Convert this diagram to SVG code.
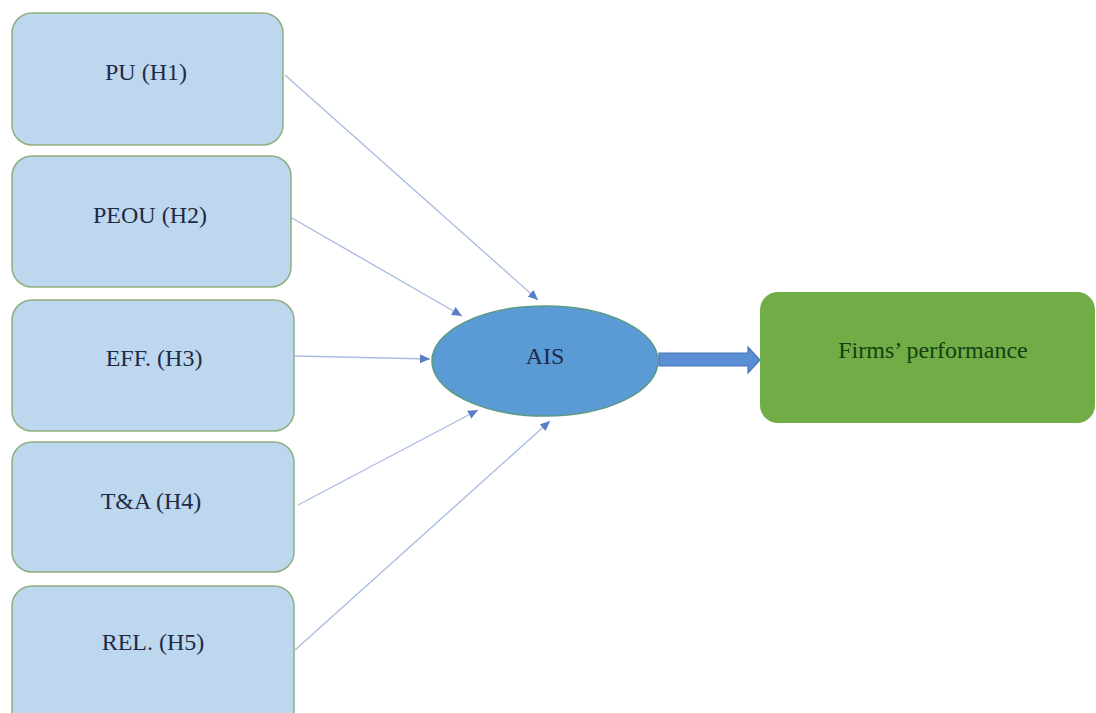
<svg xmlns="http://www.w3.org/2000/svg" width="1096" height="713" viewBox="0 0 1096 713">
  <defs>
    <marker id="tip" markerUnits="userSpaceOnUse" markerWidth="11" markerHeight="9" refX="10" refY="4.5" orient="auto">
      <path d="M0,0 L10,4.5 L0,9 z" fill="#5a7ec6"/>
    </marker>
  </defs>
  <style>
    .factor { fill: #bdd7ee; stroke: #8fae7e; stroke-width: 1.5; }
    .label { font-family: "Liberation Serif", "Times New Roman", serif; font-size: 24px; text-anchor: middle; }
    .dark { fill: #1f2b45; }
    .link { stroke: #aabde0; stroke-width: 1.4; fill: none; marker-end: url(#tip); }
  </style>
  <rect width="1096" height="713" fill="#ffffff"/>

  <g id="pu">
    <rect class="factor" x="12" y="13" width="271" height="132" rx="20"/>
    <text class="label dark" x="146" y="80">PU (H1)</text>
  </g>
  <g id="peou">
    <rect class="factor" x="12" y="156" width="279" height="131" rx="20"/>
    <text class="label dark" x="150" y="223">PEOU (H2)</text>
  </g>
  <g id="eff">
    <rect class="factor" x="12" y="300" width="282" height="131" rx="20"/>
    <text class="label dark" x="154" y="366">EFF. (H3)</text>
  </g>
  <g id="ta">
    <rect class="factor" x="12" y="442" width="282" height="130" rx="20"/>
    <text class="label dark" x="151" y="509">T&amp;A (H4)</text>
  </g>
  <g id="rel">
    <rect class="factor" x="12" y="586" width="282" height="145" rx="20"/>
    <text class="label dark" x="153" y="650">REL. (H5)</text>
  </g>

  <g id="ais">
    <ellipse cx="545" cy="361" rx="113" ry="55" fill="#5b9bd5" stroke="#5a9a86" stroke-width="1.6"/>
    <text class="label" x="545" y="364" fill="#1b2a4c">AIS</text>
  </g>

  <g id="performance">
    <rect x="760" y="292" width="335" height="131" rx="18" fill="#70ad47"/>
    <text class="label" x="933" y="358" fill="#163f10">Firms’ performance</text>
  </g>

  <g id="connectors">
    <line class="link" x1="285" y1="75" x2="538" y2="300"/>
    <line class="link" x1="292" y1="218" x2="462" y2="316"/>
    <line class="link" x1="295" y1="356" x2="430" y2="359"/>
    <line class="link" x1="298" y1="505" x2="478" y2="410"/>
    <line class="link" x1="295" y1="650" x2="550" y2="421"/>
    <path d="M659,353 L748,353 L748,347 L760,360 L748,373 L748,366 L659,366 z" fill="#5b8fd5" stroke="#4a74b4" stroke-width="1.2"/>
  </g>
</svg>
